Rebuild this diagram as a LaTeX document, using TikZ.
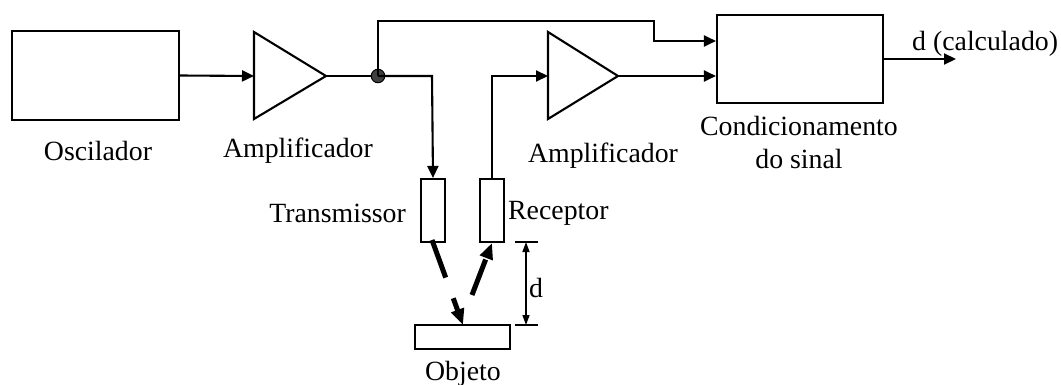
\documentclass[tikz,border=0pt]{standalone}
\usepackage{fontspec}
\setmainfont{Liberation Serif}
\usetikzlibrary{arrows.meta}
\begin{document}
\begin{tikzpicture}[x=1pt,y=-1pt,
  wire/.style={line width=2.1pt},
  sig/.style={wire,-{Triangle[length=12pt,width=11pt]}},
  blk/.style={draw,line width=2.1pt,inner sep=0pt},
  lbl/.style={inner sep=0pt,font=\fontsize{27.8}{33}\selectfont},
  beam/.style={line width=5pt,dash pattern=on 40pt off 22pt,-{Triangle[length=16pt,width=13pt]}},
  dim/.style={line width=1.4pt}]
\useasboundingbox (0,0) rectangle (1061,385);
% blocks
\node[blk,minimum width=167pt,minimum height=89pt] (osc) at (95.5,75.5) {};
\node[blk,minimum width=166pt,minimum height=88pt] (cond) at (800,59) {};
\node[blk,minimum width=24pt,minimum height=63pt] (tx) at (433,210.5) {};
\node[blk,minimum width=24pt,minimum height=63pt] (rx) at (492,210.5) {};
\node[blk,minimum width=95pt,minimum height=24pt] (obj) at (462.5,337) {};
% amplifiers
\coordinate (a1in) at (254,76);
\coordinate (a1out) at (326,76);
\draw[wire,line join=miter] (254,32) -- (a1out) -- (254,119) -- cycle;
\coordinate (a2in) at (548,76);
\coordinate (a2out) at (618,76);
\draw[wire,line join=miter] (548,32) -- (a2out) -- (548,119) -- cycle;
% junction
\node[circle,fill=black!75,draw=black,line width=1pt,minimum size=13.5pt,inner sep=0pt] (dot) at (378,76) {};
% connectors
\draw[sig] (osc.east) -- (a1in);
\draw[wire] (a1out) -- (dot);
\draw[sig] (dot.center) -- (378,21) -- (654,21) -- (654,41) -- (cond.west |- 0,41);
\draw[sig] (dot.center) -- (432,76) -- (tx.north);
\draw[sig] (rx.north) -- (492,76) -- (a2in);
\draw[sig] (a2out) -- (cond.west |- a2out);
\coordinate (out) at (956,59);
\draw[sig] (cond.east) -- (out);
% beams
\coordinate (b1s) at (432,240);
\coordinate (b1e) at (463,325);
\draw[beam] (b1s) -- (b1e);
\coordinate (b2s) at (472,295);
\coordinate (b2e) at (492,243);
\draw[beam,dash pattern=on 38pt off 6pt] (b2s) -- (b2e);
% dimension d
\coordinate (t1a) at (515,242); \coordinate (t1b) at (538,242);
\coordinate (t2a) at (515,325); \coordinate (t2b) at (538,325);
\draw[dim] (t1a) -- (t1b);
\draw[dim] (t2a) -- (t2b);
\draw[dim,{Triangle[length=10pt,width=7pt]}-{Triangle[length=10pt,width=7pt]}] (526,242) -- (526,325);
% labels
\node[lbl] (losc) at (98,151) {Oscilador};
\node[lbl] (la1) at (298,151) {Amplificador};
\node[lbl] (la2) at (603,156) {Amplificador};
\node[lbl,align=center] (lcond) at (799,142) {Condicionamento\\do sinal};
\node[lbl,anchor=east] (ltx) at (406,213) {Transmissor};
\node[lbl,anchor=west] (lrx) at (508,213) {Receptor};
\node[lbl] (lobj) at (463,374) {Objeto};
\node[lbl,anchor=west] (lout) at (912,44) {d (calculado)};
\node[lbl,anchor=west] (ld) at (529,288) {d};
\end{tikzpicture}
\end{document}
